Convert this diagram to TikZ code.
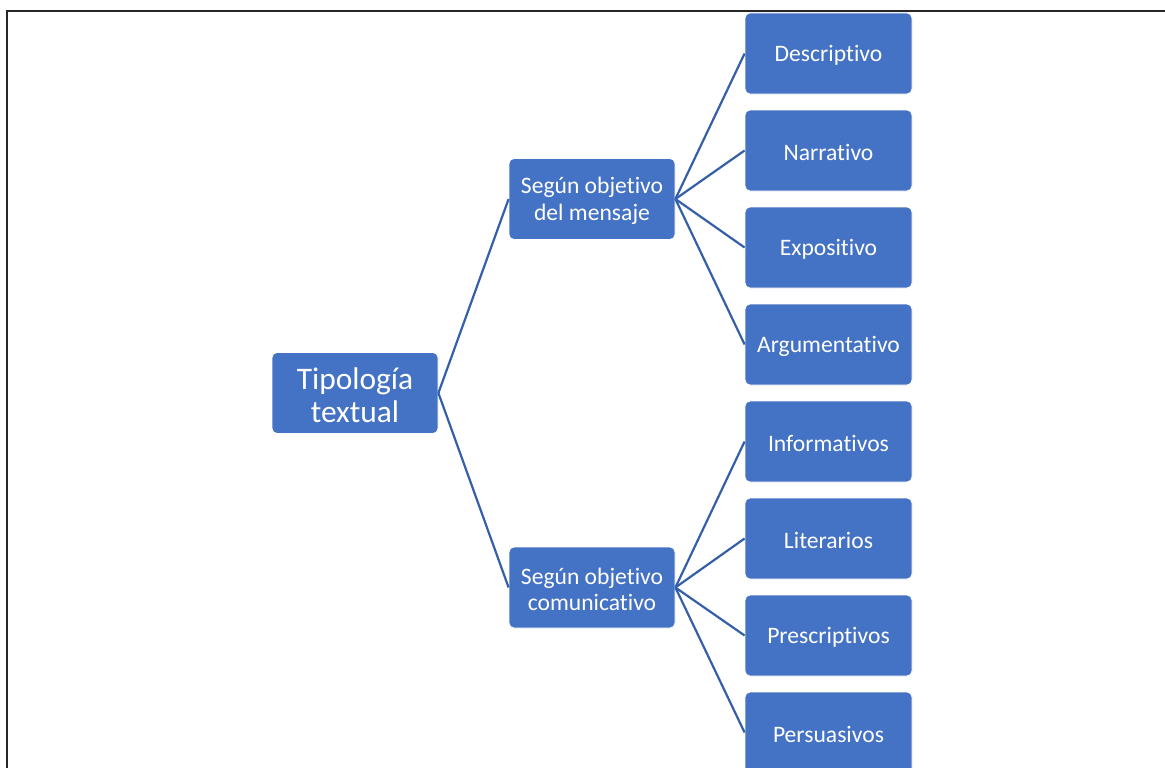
\documentclass[tikz,border=0pt]{standalone}
\usepackage{fontspec}
\setmainfont{Carlito}[RawFeature={-liga;-clig;-calt;-dlig}]
\definecolor{boxfill}{HTML}{4472C4}
\definecolor{linecol}{HTML}{3560A8}
\newcommand{\dnl}[1]{\raisebox{-2pt}[\height][\depth]{#1}}
\begin{document}
\begin{tikzpicture}[x=1pt,y=-1pt,
  box/.style={draw=white,line width=0.8pt,fill=boxfill,rounded corners=5pt,
    minimum width=166pt,minimum height=81pt,inner sep=0pt,align=center,
    text=white,font=\fontsize{23.6}{26.5}\selectfont},
  leaf/.style={box,minimum width=167pt},
  bigbox/.style={box,font=\fontsize{31.4}{33.5}\selectfont},
  conn/.style={draw=linecol,line width=2.2pt}]
\useasboundingbox (0,0) rectangle (1165,768);
\fill[white] (0,0) rectangle (1165,768);
\coordinate (fa) at (7,800);
\coordinate (fb) at (7,11);
\coordinate (fc) at (1200,11);
\draw[line width=2.2pt,black!85] (fa) -- (fb) -- (fc);
\node[bigbox] (root) at (355,393) {\dnl{Tipología}\\\dnl{textual}};
\node[box] (m1) at (592,199) {\dnl{Según objetivo}\\\dnl{del mensaje}};
\node[box] (m2) at (592,587.5) {\dnl{Según objetivo}\\\dnl{comunicativo}};
\node[leaf] (c1) at (828.5,53.5) {\dnl{Descriptivo}};
\node[leaf] (c2) at (828.5,150.5) {\dnl{Narrativo}};
\node[leaf] (c3) at (828.5,247.5) {\dnl{Expositivo}};
\node[leaf] (c4) at (828.5,344.5) {\dnl{Argumentativo}};
\node[leaf] (c5) at (828.5,441.5) {\dnl{Informativos}};
\node[leaf] (c6) at (828.5,538.5) {\dnl{Literarios}};
\node[leaf] (c7) at (828.5,635.5) {\dnl{Prescriptivos}};
\node[leaf] (c8) at (828.5,732.5) {\dnl{Persuasivos}};
\draw[conn] (root.east) -- (m1.west);
\draw[conn] (root.east) -- (m2.west);
\foreach \c in {c1,c2,c3,c4} \draw[conn] (m1.east) -- (\c.west);
\foreach \c in {c5,c6,c7,c8} \draw[conn] (m2.east) -- (\c.west);
\end{tikzpicture}
\end{document}
